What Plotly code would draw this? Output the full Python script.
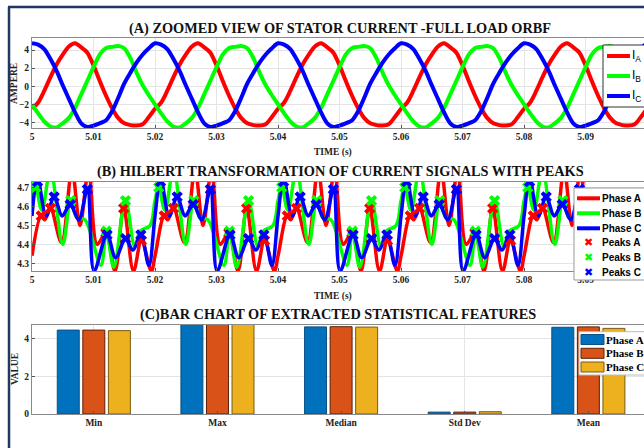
import plotly.graph_objects as go

W, H = 644, 448

# ---------------- Panel A: stator currents (1 ms sampling, t in ms after 5 s) ----------------
tA_ms = list(range(0, 101))
IA = [-2.5, -1.8, -0.5, 1.0, 2.4, 3.5, 4.4, 4.75, 4.3, 3.7, 2.3, 0.6, -1.0, -2.4, -3.5, -4.1, -4.3, -4.35, -4.2, -3.4,
      -2.5, -1.8, -0.5, 1.0, 2.4, 3.5, 4.4, 4.75, 4.3, 3.7, 2.3, 0.6, -1.0, -2.4, -3.5, -4.1, -4.3, -4.35, -4.2, -3.4,
      -2.5, -1.8, -0.5, 1.0, 2.4, 3.5, 4.4, 4.75, 4.3, 3.7, 2.3, 0.6, -1.0, -2.4, -3.5, -4.1, -4.3, -4.35, -4.2, -3.4,
      -2.5, -1.8, -0.5, 1.0, 2.4, 3.5, 4.4, 4.75, 4.3, 3.7, 2.3, 0.6, -1.0, -2.4, -3.5, -4.1, -4.3, -4.35, -4.2, -3.4,
      -2.5, -1.8, -0.5, 1.0, 2.4, 3.5, 4.4, 4.75, 4.3, 3.7, 2.3, 0.6, -1.0, -2.4, -3.5, -4.1, -4.3, -4.35, -4.2, -3.4,
      -2.5]
IB = [-2.0, -3.0, -3.9, -4.45, -4.55, -4.1, -3.5, -2.4, -0.9, 0.6, 2.1, 3.5, 4.2, 4.35, 4.45, 4.2, 3.1, 1.5, 0.1, -1.0,
      -2.0, -3.0, -3.9, -4.45, -4.55, -4.1, -3.5, -2.4, -0.9, 0.6, 2.1, 3.5, 4.2, 4.35, 4.45, 4.2, 3.1, 1.5, 0.1, -1.0,
      -2.0, -3.0, -3.9, -4.45, -4.55, -4.1, -3.5, -2.4, -0.9, 0.6, 2.1, 3.5, 4.2, 4.35, 4.45, 4.2, 3.1, 1.5, 0.1, -1.0,
      -2.0, -3.0, -3.9, -4.45, -4.55, -4.1, -3.5, -2.4, -0.9, 0.6, 2.1, 3.5, 4.2, 4.35, 4.45, 4.2, 3.1, 1.5, 0.1, -1.0,
      -2.0, -3.0, -3.9, -4.45, -4.55, -4.1, -3.5, -2.4, -0.9, 0.6, 2.1, 3.5, 4.2, 4.35, 4.45, 4.2, 3.1, 1.5, 0.1, -1.0,
      -2.0]
IC = [4.75, 4.6, 4.1, 3.0, 1.7, 0.1, -1.4, -2.9, -4.1, -4.5, -4.35, -4.1, -3.8, -2.8, -1.3, 0.3, 1.5, 2.6, 3.5, 4.2,
      4.75, 4.6, 4.1, 3.0, 1.7, 0.1, -1.4, -2.9, -4.1, -4.5, -4.35, -4.1, -3.8, -2.8, -1.3, 0.3, 1.5, 2.6, 3.5, 4.2,
      4.75, 4.6, 4.1, 3.0, 1.7, 0.1, -1.4, -2.9, -4.1, -4.5, -4.35, -4.1, -3.8, -2.8, -1.3, 0.3, 1.5, 2.6, 3.5, 4.2,
      4.75, 4.6, 4.1, 3.0, 1.7, 0.1, -1.4, -2.9, -4.1, -4.5, -4.35, -4.1, -3.8, -2.8, -1.3, 0.3, 1.5, 2.6, 3.5, 4.2,
      4.75, 4.6, 4.1, 3.0, 1.7, 0.1, -1.4, -2.9, -4.1, -4.5, -4.35, -4.1, -3.8, -2.8, -1.3, 0.3, 1.5, 2.6, 3.5, 4.2,
      4.75]
labels_A = ["I<sub>A</sub>", "I<sub>B</sub>", "I<sub>C</sub>"]

# ---------------- Panel B: Hilbert envelopes (key points, t in ms after 5 s) ----------------
envA_ms = [0, 1.5, 2.1, 3.0, 4.8, 6.5, 7.8, 9.2, 10.6, 12.0, 13.5, 14.9, 16.5, 17.8, 19.4,
           20, 21.5, 22.1, 23.0, 24.8, 26.5, 27.8, 29.2, 30.6, 32.0, 33.5, 34.9, 36.5, 37.8, 39.4,
           40, 41.5, 42.1, 43.0, 44.8, 46.5, 47.8, 49.2, 50.6, 52.0, 53.5, 54.9, 56.5, 57.8, 59.4,
           60, 61.5, 62.1, 63.0, 64.8, 66.5, 67.8, 69.2, 70.6, 72.0, 73.5, 74.9, 76.5, 77.8, 79.4,
           80, 81.5, 82.1, 83.0, 84.8, 86.5, 87.8, 89.2, 90.6, 92.0, 93.5, 94.9, 96.5, 97.8, 99.4, 100]
envA = [4.34, 4.55, 4.53, 4.59, 4.41, 4.79, 4.50, 4.79, 4.40, 4.46, 4.26, 4.59, 4.26, 4.42, 4.26,
        4.34, 4.55, 4.53, 4.59, 4.41, 4.79, 4.50, 4.79, 4.40, 4.46, 4.26, 4.59, 4.26, 4.42, 4.26,
        4.34, 4.55, 4.53, 4.59, 4.41, 4.79, 4.50, 4.79, 4.40, 4.46, 4.26, 4.59, 4.26, 4.42, 4.26,
        4.34, 4.55, 4.53, 4.59, 4.41, 4.79, 4.50, 4.79, 4.40, 4.46, 4.26, 4.59, 4.26, 4.42, 4.26,
        4.34, 4.55, 4.53, 4.59, 4.41, 4.79, 4.50, 4.79, 4.40, 4.46, 4.26, 4.59, 4.26, 4.42, 4.26, 4.34]

envB_ms = [0, 0.6, 1.6, 3.0, 5.0, 6.3, 7.3, 8.6, 11.2, 12.1, 13.3, 15.2, 16.7, 17.6, 19.2,
           20, 20.6, 21.6, 23.0, 25.0, 26.3, 27.3, 28.6, 31.2, 32.1, 33.3, 35.2, 36.7, 37.6, 39.2,
           40, 40.6, 41.6, 43.0, 45.0, 46.3, 47.3, 48.6, 51.2, 52.1, 53.3, 55.2, 56.7, 57.6, 59.2,
           60, 60.6, 61.6, 63.0, 65.0, 66.3, 67.3, 68.6, 71.2, 72.1, 73.3, 75.2, 76.7, 77.6, 79.2,
           80, 80.6, 81.6, 83.0, 85.0, 86.3, 87.3, 88.6, 91.2, 92.1, 93.3, 95.2, 96.7, 97.6, 99.2, 100]
envB = [4.63, 4.70, 4.58, 4.79, 4.40, 4.63, 4.54, 4.53, 4.29, 4.47, 4.28, 4.63, 4.39, 4.47, 4.50,
        4.63, 4.70, 4.58, 4.79, 4.40, 4.63, 4.54, 4.53, 4.29, 4.47, 4.28, 4.63, 4.39, 4.47, 4.50,
        4.63, 4.70, 4.58, 4.79, 4.40, 4.63, 4.54, 4.53, 4.29, 4.47, 4.28, 4.63, 4.39, 4.47, 4.50,
        4.63, 4.70, 4.58, 4.79, 4.40, 4.63, 4.54, 4.53, 4.29, 4.47, 4.28, 4.63, 4.39, 4.47, 4.50,
        4.63, 4.70, 4.58, 4.79, 4.40, 4.63, 4.54, 4.53, 4.29, 4.47, 4.28, 4.63, 4.39, 4.47, 4.50, 4.63]

envC_ms = [0, 0.9, 2.3, 3.6, 4.9, 6.2, 7.6, 9.0, 10.1, 12.2, 13.6, 15.2, 16.4, 17.7, 19.0,
           20, 20.9, 22.3, 23.6, 24.9, 26.2, 27.6, 29.0, 30.1, 32.2, 33.6, 35.2, 36.4, 37.7, 39.0,
           40, 40.9, 42.3, 43.6, 44.9, 46.2, 47.6, 49.0, 50.1, 52.2, 53.6, 55.2, 56.4, 57.7, 59.0,
           60, 60.9, 62.3, 63.6, 64.9, 66.2, 67.6, 69.0, 70.1, 72.2, 73.6, 75.2, 76.4, 77.7, 79.0,
           80, 80.9, 82.3, 83.6, 84.9, 86.2, 87.6, 89.0, 90.1, 92.2, 93.6, 95.2, 96.4, 97.7, 99.0, 100]
envC = [4.55, 4.75, 4.55, 4.65, 4.55, 4.61, 4.53, 4.69, 4.26, 4.45, 4.33, 4.43, 4.37, 4.45, 4.29,
        4.55, 4.75, 4.55, 4.65, 4.55, 4.61, 4.53, 4.69, 4.26, 4.45, 4.33, 4.43, 4.37, 4.45, 4.29,
        4.55, 4.75, 4.55, 4.65, 4.55, 4.61, 4.53, 4.69, 4.26, 4.45, 4.33, 4.43, 4.37, 4.45, 4.29,
        4.55, 4.75, 4.55, 4.65, 4.55, 4.61, 4.53, 4.69, 4.26, 4.45, 4.33, 4.43, 4.37, 4.45, 4.29,
        4.55, 4.75, 4.55, 4.65, 4.55, 4.61, 4.53, 4.69, 4.26, 4.45, 4.33, 4.43, 4.37, 4.45, 4.29, 4.55]

peakA_ms = [1.5, 3.0, 6.5, 9.2, 12.0, 14.9, 17.8,
            21.5, 23.0, 26.5, 29.2, 32.0, 34.9, 37.8,
            41.5, 43.0, 46.5, 49.2, 52.0, 54.9, 57.8,
            61.5, 63.0, 66.5, 69.2, 72.0, 74.9, 77.8,
            81.5, 83.0, 86.5, 89.2, 92.0, 94.9, 97.8]
peakA = [4.55, 4.59, 4.75, 4.75, 4.46, 4.59, 4.42,
         4.55, 4.59, 4.75, 4.75, 4.46, 4.59, 4.42,
         4.55, 4.59, 4.75, 4.75, 4.46, 4.59, 4.42,
         4.55, 4.59, 4.75, 4.75, 4.46, 4.59, 4.42,
         4.55, 4.59, 4.75, 4.75, 4.46, 4.59, 4.42]
peakB_ms = [0.6, 3.0, 6.3, 12.1, 15.2,
            20.6, 23.0, 26.3, 32.1, 35.2,
            40.6, 43.0, 46.3, 52.1, 55.2,
            60.6, 63.0, 66.3, 72.1, 75.2,
            80.6, 83.0, 86.3, 92.1, 95.2]
peakB = [4.70, 4.76, 4.63, 4.47, 4.63,
         4.70, 4.76, 4.63, 4.47, 4.63,
         4.70, 4.76, 4.63, 4.47, 4.63,
         4.70, 4.76, 4.63, 4.47, 4.63,
         4.70, 4.76, 4.63, 4.47, 4.63]
peakC_ms = [0.9, 3.6, 6.2, 9.0, 12.2, 15.2, 17.7,
            20.9, 23.6, 26.2, 29.0, 32.2, 35.2, 37.7,
            40.9, 43.6, 46.2, 49.0, 52.2, 55.2, 57.7,
            60.9, 63.6, 66.2, 69.0, 72.2, 75.2, 77.7,
            80.9, 83.6, 86.2, 89.0, 92.2, 95.2, 97.7]
peakC = [4.73, 4.65, 4.61, 4.69, 4.45, 4.43, 4.45,
         4.73, 4.65, 4.61, 4.69, 4.45, 4.43, 4.45,
         4.73, 4.65, 4.61, 4.69, 4.45, 4.43, 4.45,
         4.73, 4.65, 4.61, 4.69, 4.45, 4.43, 4.45,
         4.73, 4.65, 4.61, 4.69, 4.45, 4.43, 4.45]
labels_B = ["Phase A", "Phase B", "Phase C", "Peaks A", "Peaks B", "Peaks C"]

# ---------------- Panel C: statistical features ----------------
features = ["Min", "Max", "Median", "Std Dev", "Mean"]
stat_A = [4.46, 4.76, 4.63, 0.10, 4.61]
stat_B = [4.46, 4.76, 4.64, 0.10, 4.63]
stat_C = [4.43, 4.76, 4.62, 0.12, 4.55]
labels_C = ["Phase A", "Phase B", "Phase C"]

x_tick_vals = [5, 5.01, 5.02, 5.03, 5.04, 5.05, 5.06, 5.07, 5.08, 5.09]
x_tick_text = ["5", "5.01", "5.02", "5.03", "5.04", "5.05", "5.06", "5.07", "5.08", "5.09"]


def t_s(ms_list):
    return [5 + m / 1000.0 for m in ms_list]


def fx(p):
    return p / W


def fy(p):
    return 1 - p / H


SERIF = "Liberation Serif"
SANS = "Liberation Sans"
RED, GREEN, BLUE = "#FF0000", "#00FF00", "#0000FF"
MB, MO, MY = "#0072BD", "#D95319", "#EDB120"
EB, EO, EY = "#0a4f85", "#5a2008", "#7a5a10"
GRID = "#e4e4e4"
AXC = "#8a8a8a"

fig = go.Figure()

# Panel A
for yv, c in [(IA, RED), (IB, GREEN), (IC, BLUE)]:
    fig.add_trace(go.Scatter(x=t_s(tA_ms), y=yv, mode="lines",
                             line=dict(color=c, width=4, shape="spline", smoothing=0.8),
                             xaxis="x", yaxis="y"))

# Panel B
for tt, yv, c in [(envA_ms, envA, RED), (envB_ms, envB, GREEN), (envC_ms, envC, BLUE)]:
    fig.add_trace(go.Scatter(x=t_s(tt), y=yv, mode="lines",
                             line=dict(color=c, width=3.5, shape="spline", smoothing=1.0),
                             xaxis="x2", yaxis="y2"))
for tt, yv, c in [(peakA_ms, peakA, RED), (peakB_ms, peakB, GREEN), (peakC_ms, peakC, BLUE)]:
    fig.add_trace(go.Scatter(x=t_s(tt), y=yv, mode="markers",
                             marker=dict(color=c, symbol="x", size=10, line=dict(width=0)),
                             xaxis="x2", yaxis="y2"))

# Panel C
for yv, c, e in [(stat_A, MB, EB), (stat_B, MO, EO), (stat_C, MY, EY)]:
    fig.add_trace(go.Bar(x=features, y=yv, marker=dict(color=c, line=dict(color=e, width=1)),
                         xaxis="x3", yaxis="y3"))

axis_common = dict(showgrid=True, gridcolor=GRID, gridwidth=1, zeroline=False, showline=True,
                   linecolor=AXC, linewidth=1, mirror=True, ticks="inside", ticklen=3,
                   tickcolor="#555", automargin=False,
                   tickfont=dict(family=SERIF, size=9.5, color="#222", weight="bold"))

dx = [fx(32), 1.0]
fig.update_layout(
    width=W, height=H, margin=dict(l=0, r=0, t=0, b=0),
    paper_bgcolor="white", plot_bgcolor="white", showlegend=False,
    barmode="group", bargap=0.38, bargroupgap=0.14,
    xaxis=dict(domain=dx, anchor="y", range=[5, 5.0995], tickvals=x_tick_vals, ticktext=x_tick_text, **axis_common),
    yaxis=dict(domain=[fy(128), fy(38)], anchor="x", range=[-4.62, 5.33], tickvals=[-4, -2, 0, 2, 4], **axis_common),
    xaxis2=dict(domain=dx, anchor="y2", range=[5, 5.0995], tickvals=x_tick_vals, ticktext=x_tick_text, **axis_common),
    yaxis2=dict(domain=[fy(271), fy(181.7)], anchor="x2", range=[4.26, 4.73],
                tickvals=[4.3, 4.4, 4.5, 4.6, 4.7], **axis_common),
    xaxis3=dict(domain=dx, anchor="y3", range=[-0.5, 4.45], type="category", **axis_common),
    yaxis3=dict(domain=[fy(414), fy(325)], anchor="x3", range=[0, 4.73], tickvals=[0, 2, 4], **axis_common),
)

title_font = dict(family=SERIF, size=14.3, color="#111", weight="bold")
small_font = dict(family=SERIF, size=9.5, color="#222", weight="bold")
ann = [
    dict(text="(A) ZOOMED VIEW OF STATOR CURRENT -FULL LOAD ORBF", x=fx(340), y=fy(28), font=title_font),
    dict(text="(B) HILBERT TRANSFORMATION OF CURRENT SIGNALS WITH PEAKS", x=fx(340), y=fy(171), font=title_font),
    dict(text="(C)BAR CHART OF EXTRACTED STATISTICAL FEATURES", x=fx(338), y=fy(314), font=title_font),
    dict(text="TIME (s)", x=fx(333), y=fy(152), font=small_font),
    dict(text="TIME (s)", x=fx(333), y=fy(296), font=small_font),
    dict(text="AMPERE", x=fx(14), y=fy(84), font=small_font, textangle=-90),
    dict(text="VALUE", x=fx(15), y=fy(369), font=small_font, textangle=-90),
]
for a in ann:
    fig.add_annotation(xref="paper", yref="paper", showarrow=False, xanchor="center", yanchor="middle", **a)


def box(x0, y0, x1, y1, border):
    fig.add_shape(type="rect", xref="paper", yref="paper", x0=fx(x0), x1=fx(x1), y0=fy(y1), y1=fy(y0),
                  fillcolor="white", line=dict(color=border, width=1))


def legend_text(x, y, text, font):
    fig.add_annotation(xref="paper", yref="paper", showarrow=False, xanchor="left", yanchor="middle",
                       x=fx(x), y=fy(y), text=text, font=font, borderpad=0)


# Legend A (line samples + I_A, I_B, I_C)
box(603, 45, 660, 107, "#333")
for lab, c, yy in zip(labels_A, [RED, GREEN, BLUE], [56, 76, 96]):
    fig.add_shape(type="line", xref="paper", yref="paper", x0=fx(607), x1=fx(630), y0=fy(yy), y1=fy(yy),
                  line=dict(color=c, width=4))
    legend_text(631, yy, lab, dict(family=SANS, size=12, color="black"))

# Legend B
box(574, 188, 660, 280, "#999")
sans_b = dict(family=SANS, size=10, color="black", weight="bold")
ys_B = [198.3, 213.3, 228.3, 242.7, 257.3, 272.7]
cols_B = [RED, GREEN, BLUE, RED, GREEN, BLUE]
for i, (lab, c, yy) in enumerate(zip(labels_B, cols_B, ys_B)):
    if i < 3:
        fig.add_shape(type="line", xref="paper", yref="paper", x0=fx(577), x1=fx(600), y0=fy(yy), y1=fy(yy),
                      line=dict(color=c, width=4))
    else:
        fig.add_annotation(xref="paper", yref="paper", showarrow=False, xanchor="center", yanchor="middle",
                           x=fx(588.5), y=fy(yy), text="\u2716", borderpad=0,
                           font=dict(family="DejaVu Sans", size=11, color=c))
    legend_text(601, yy, lab, sans_b)

# Legend C
box(579, 331.7, 660, 375, "#bbb")
serif_b = dict(family=SERIF, size=11, color="black", weight="bold")
for lab, c, e, yy in zip(labels_C, [MB, MO, MY], [EB, EO, EY], [339.5, 353.3, 367]):
    fig.add_shape(type="rect", xref="paper", yref="paper", x0=fx(581), x1=fx(604), y0=fy(yy + 5), y1=fy(yy - 5),
                  fillcolor=c, line=dict(color=e, width=1))
    legend_text(605, yy, lab, serif_b)

# navy frame lines
fig.add_shape(type="line", xref="paper", yref="paper", x0=fx(8), x1=1, y0=fy(7), y1=fy(7),
              line=dict(color="#1f3864", width=2.5))
fig.add_shape(type="line", xref="paper", yref="paper", x0=fx(9), x1=fx(9), y0=fy(7), y1=0,
              line=dict(color="#1f3864", width=2.5))

fig.write_html("out.html")
